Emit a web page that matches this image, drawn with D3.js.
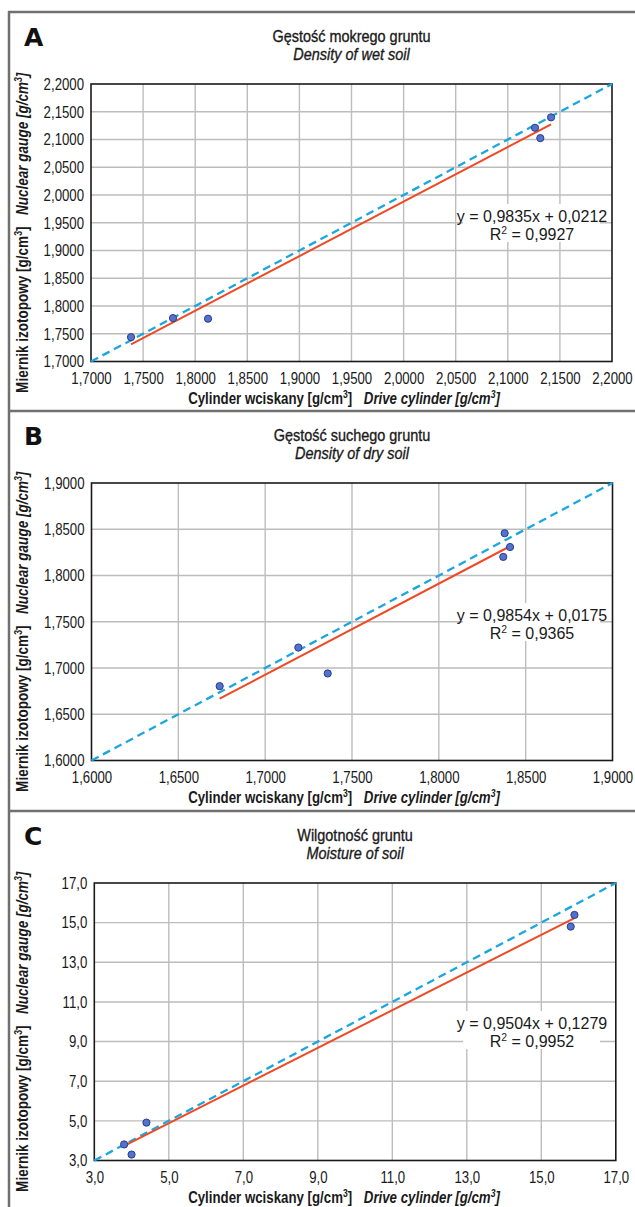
<!DOCTYPE html>
<html>
<head>
<meta charset="utf-8">
<script src="https://cdn.jsdelivr.net/npm/d3@7"></script>
<style>
  body { margin: 0; background: #fff; }
  svg { display: block; }
  text { font-family: "Liberation Sans", Arial, sans-serif; fill: #1a1a1a; }
  .letter { font-family: "DejaVu Sans", sans-serif; font-weight: 900; font-size: 25px; fill: #111; }
  .title { stroke: #1a1a1a; stroke-width: 0.35px; }
</style>
</head>
<body>
<svg id="chart" width="635" height="1207"></svg>
<script>
// ---- data ----
const wetX = [1.7384, 1.7787, 1.8123, 2.1261, 2.1312, 2.1415];
const wetY = [1.7439, 1.7782, 1.7771, 2.1211, 2.1025, 2.1399];
const wetTicks = [1.70, 1.75, 1.80, 1.85, 1.90, 1.95, 2.00, 2.05, 2.10, 2.15, 2.20];
const wetFit = [0.9835, 0.0212];
const wetR2 = 0.9927;

const dryX = [1.6738, 1.7191, 1.7360, 1.8379, 1.8371, 1.8410];
const dryY = [1.6804, 1.7221, 1.6941, 1.8457, 1.8201, 1.8308];
const dryTicks = [1.60, 1.65, 1.70, 1.75, 1.80, 1.85, 1.90];
const dryFit = [0.9854, 0.0175];
const dryR2 = 0.9365;

const moistX = [3.80, 4.00, 4.40, 15.79, 15.89];
const moistY = [3.81, 3.30, 4.91, 14.80, 15.39];
const moistTicks = [3, 5, 7, 9, 11, 13, 15, 17];
const moistFit = [0.9504, 0.1279];
const moistR2 = 0.9952;

const letters = ["A", "B", "C"];
const titlesPL = ["Gęstość mokrego gruntu", "Gęstość suchego gruntu", "Wilgotność gruntu"];
const titlesEN = ["Density of wet soil", "Density of dry soil", "Moisture of soil"];

const svg = d3.select("#chart");
const PANEL_TOP = [12, 411, 811];
const FRAME = "#707070";
const NARROW = 0.8;

// outer frame and dividers
svg.append("line").attr("x1", 9).attr("x2", 9).attr("y1", 11).attr("y2", 1207)
  .attr("stroke", FRAME).attr("stroke-width", 2.5);
PANEL_TOP.forEach(t => {
  svg.append("line").attr("x1", 8).attr("x2", 635).attr("y1", t).attr("y2", t)
    .attr("stroke", FRAME).attr("stroke-width", 2.5);
});

function comma(dec) {
  return d => d3.format("." + dec + "f")(d).replace(".", ",");
}

// condensed text: squeeze horizontally round its anchor point
function ntext(g, x, y, k, rot) {
  return g.append("text")
    .attr("transform", `translate(${x},${y})${rot ? " rotate(" + rot + ")" : ""} scale(${k},1)`);
}

function sup(t, s, italic) {
  const sp = t.append("tspan").attr("dy", -6).style("font-size", "0.65em").text(s);
  if (italic) sp.style("font-style", "italic");
}

function unitTitle(t, a, b) {
  t.append("tspan").text(a + " [g/cm");
  sup(t, "3");
  t.append("tspan").attr("dy", 6).text("]");
  t.append("tspan").attr("dx", 14).style("font-style", "italic").text(b + " [g/cm");
  sup(t, "3", true);
  t.append("tspan").attr("dy", 6).style("font-style", "italic").text("]");
}

function drawPanel(i, xs, ys, ticks, fit, r2, dec, left, right) {
  const top = PANEL_TOP[i];
  const T = top + 72, B = top + 349.5;
  const lo = ticks[0], hi = ticks[ticks.length - 1];
  const x = d3.scaleLinear().domain([lo, hi]).range([left, right]);
  const y = d3.scaleLinear().domain([lo, hi]).range([B, T]);
  const fmt = comma(dec);
  const g = svg.append("g");

  // letter + titles
  g.append("text").attr("class", "letter").attr("x", 24).attr("y", top + 34).text(letters[i]);
  const cx = (left + right) / 2;
  ntext(g, cx, top + 30, 0.85).attr("class", "title").attr("text-anchor", "middle")
    .style("font-size", "17px").text(titlesPL[i]);
  ntext(g, cx, top + 47.5, 0.85).attr("class", "title").attr("text-anchor", "middle")
    .style("font-size", "17px").style("font-style", "italic").text(titlesEN[i]);

  // grid
  g.append("g").selectAll("line").data(ticks.slice(1, -1)).join("line")
    .attr("x1", d => x(d)).attr("x2", d => x(d)).attr("y1", T).attr("y2", B)
    .attr("stroke", "#bdbdbd").attr("stroke-width", 1.4);
  g.append("g").selectAll("line").data(ticks.slice(1, -1)).join("line")
    .attr("x1", left).attr("x2", right).attr("y1", d => y(d)).attr("y2", d => y(d))
    .attr("stroke", "#bdbdbd").attr("stroke-width", 1.4);

  // axes labels
  const xa = g.append("g").attr("transform", `translate(0,${B})`)
    .call(d3.axisBottom(x).tickValues(ticks).tickSize(0).tickPadding(11).tickFormat(fmt));
  const ya = g.append("g").attr("transform", `translate(${left},0)`)
    .call(d3.axisLeft(y).tickValues(ticks).tickSize(0).tickPadding(7).tickFormat(fmt));
  [xa, ya].forEach(a => {
    a.select(".domain").remove();
    a.selectAll("text").attr("font-family", null).attr("font-size", null)
      .style("font-size", "16.5px").attr("fill", "#1a1a1a")
      .attr("transform", `scale(${NARROW},1)`);
  });
  ya.selectAll("text").attr("x", -7 / NARROW);

  // equation box
  const ex = 532, ey = top + 205 + (i == 2 ? 8 : 0);
  g.append("rect").attr("x", 463).attr("y", ey - 13).attr("width", 137).attr("height", 38).attr("fill", "#fff");
  g.append("text").attr("x", ex).attr("y", ey + 5).attr("text-anchor", "middle").style("font-size", "16px")
    .text("y = " + comma(4)(fit[0]) + "x + " + comma(4)(fit[1]));
  const r = g.append("text").attr("x", ex).attr("y", ey + 23).attr("text-anchor", "middle").style("font-size", "16px");
  r.append("tspan").text("R");
  sup(r, "2");
  r.append("tspan").attr("dy", 6).text(" = " + comma(4)(r2));

  // plot frame
  g.append("rect").attr("x", left).attr("y", T).attr("width", right - left).attr("height", B - T)
    .attr("fill", "none").attr("stroke", "#1a1a1a").attr("stroke-width", 1.6);

  // 1:1 line
  g.append("line").attr("x1", x(lo)).attr("y1", y(lo)).attr("x2", x(hi)).attr("y2", y(hi))
    .attr("stroke", "#1aa6df").attr("stroke-width", 2.3).attr("stroke-dasharray", "8,5");

  // trend line
  const x0 = d3.min(xs), x1 = d3.max(xs);
  g.append("line").attr("x1", x(x0)).attr("y1", y(fit[0] * x0 + fit[1]))
    .attr("x2", x(x1)).attr("y2", y(fit[0] * x1 + fit[1]))
    .attr("stroke", "#ee4a25").attr("stroke-width", 2);

  // points
  g.append("g").selectAll("circle").data(xs.map((v, k) => [v, ys[k]])).join("circle")
    .attr("cx", d => x(d[0])).attr("cy", d => y(d[1])).attr("r", 3.6)
    .attr("fill", "#5272cc").attr("stroke", "#2b3b8e").attr("stroke-width", 1);

  // axis titles
  const xt = ntext(g, 344, B + 42.5, 0.83).attr("text-anchor", "middle")
    .style("font-size", "16px").style("font-weight", "bold");
  unitTitle(xt, "Cylinder wciskany", "Drive cylinder");

  const yt = ntext(g, 28, (T + B) / 2 + 10, 0.82, -90).attr("text-anchor", "middle")
    .style("font-size", "16.5px").style("font-weight", "bold");
  unitTitle(yt, "Miernik izotopowy", "Nuclear gauge");
}

drawPanel(0, wetX, wetY, wetTicks, wetFit, wetR2, 4, 91, 612);
drawPanel(1, dryX, dryY, dryTicks, dryFit, dryR2, 4, 91.5, 612.5);
drawPanel(2, moistX, moistY, moistTicks, moistFit, moistR2, 1, 94.3, 615.8);
</script>
</body>
</html>
